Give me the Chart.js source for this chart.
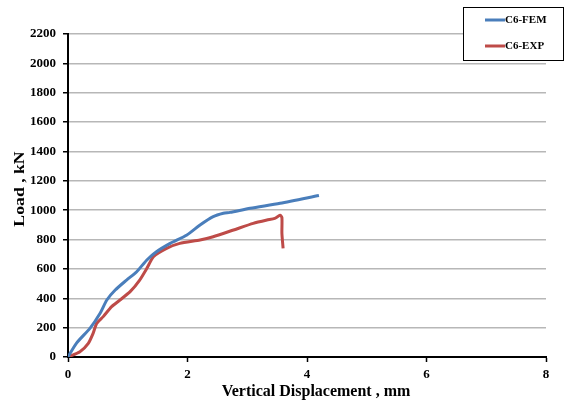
<!DOCTYPE html>
<html>
<head>
<meta charset="utf-8">
<script src="https://cdn.jsdelivr.net/npm/chart.js@4"></script>
<style>
  html, body { margin: 0; padding: 0; background: #fff; }
  #wrap { width: 565px; height: 406px; }
</style>
</head>
<body>
<div id="wrap"><canvas id="c" width="565" height="406"></canvas></div>
<script>
// ---- data ----
const xTicks = [0, 2, 4, 6, 8];
const yTicks = [0, 200, 400, 600, 800, 1000, 1200, 1400, 1600, 1800, 2000, 2200];

const femLabel = 'C6-FEM';
const femX = [0, 0.14, 0.37, 0.54, 0.65, 0.79, 0.98, 1.15, 1.32, 1.48, 1.71, 1.99, 2.21, 2.43, 2.60, 2.71, 3.05, 3.55, 4.20];
const femY = [0, 93, 197, 300, 388, 456, 524, 581, 661, 717, 774, 831, 899, 956, 979, 985, 1013, 1047, 1100];

const expLabel = 'C6-EXP';
const expX = [0, 0.20, 0.34, 0.42, 0.48, 0.59, 0.73, 0.87, 1.04, 1.20, 1.32, 1.43, 1.65, 1.87, 2.21, 2.43, 2.77, 3.10, 3.33, 3.46, 3.55, 3.58, 3.58, 3.60];
const expY = [0, 36, 93, 161, 229, 275, 343, 388, 445, 524, 604, 683, 740, 774, 797, 819, 865, 910, 933, 944, 965, 950, 843, 740];

const xTitle = 'Vertical Displacement , mm';
const yTitle = 'Load , kN';

function pts(xs, ys) { return xs.map((x, i) => ({ x: x, y: ys[i] })); }

const FONT = '"Liberation Serif", "Times New Roman", serif';

const bgPlugin = {
  id: 'bg',
  beforeDraw(chart) {
    const ctx = chart.ctx;
    ctx.save();
    ctx.fillStyle = '#ffffff';
    ctx.fillRect(0, 0, chart.width, chart.height);
    ctx.restore();
  }
};

const extrasPlugin = {
  id: 'extras',
  afterDraw(chart) {
    const ctx = chart.ctx;
    ctx.save();
    // y axis title (slightly stretched along its length, as in the reference)
    ctx.translate(20, 189);
    ctx.rotate(-Math.PI / 2);
    ctx.scale(1.18, 1);
    ctx.font = 'bold 15px ' + FONT;
    ctx.fillStyle = '#000';
    ctx.textAlign = 'center';
    ctx.textBaseline = 'middle';
    ctx.fillText(yTitle, 0, 0);
    ctx.restore();

    // x axis title
    ctx.save();
    ctx.font = 'bold 16px ' + FONT;
    ctx.fillStyle = '#000';
    ctx.textAlign = 'center';
    ctx.textBaseline = 'middle';
    ctx.fillText(xTitle, 316, 392);
    ctx.restore();

    // legend box
    ctx.save();
    const bx = 463.5, by = 7.5, bw = 100, bh = 53;
    ctx.fillStyle = '#fff';
    ctx.fillRect(bx, by, bw, bh);
    ctx.strokeStyle = '#000';
    ctx.lineWidth = 1;
    ctx.strokeRect(bx, by, bw, bh);
    const ds = chart.data.datasets;
    const rows = [20, 46];
    ds.forEach((d, i) => {
      ctx.strokeStyle = d.borderColor;
      ctx.lineWidth = 3;
      ctx.beginPath();
      ctx.moveTo(485, rows[i]);
      ctx.lineTo(505, rows[i]);
      ctx.stroke();
      ctx.fillStyle = '#000';
      ctx.font = 'bold 11px ' + FONT;
      ctx.textAlign = 'left';
      ctx.textBaseline = 'middle';
      ctx.fillText(d.label, 505, rows[i]);
    });
    ctx.restore();
  }
};

new Chart(document.getElementById('c'), {
  type: 'scatter',
  data: {
    datasets: [
      { label: femLabel, data: pts(femX, femY), showLine: true, borderColor: '#4A7EBB', borderWidth: 3, pointRadius: 0, tension: 0.25, fill: false },
      { label: expLabel, data: pts(expX, expY), showLine: true, borderColor: '#BE4B48', borderWidth: 3, pointRadius: 0, tension: 0.2, fill: false }
    ]
  },
  options: {
    responsive: false,
    animation: false,
    devicePixelRatio: 1,
    layout: { padding: { left: 0, top: 34, right: 19, bottom: 0 } },
    plugins: { legend: { display: false }, tooltip: { enabled: false } },
    scales: {
      x: {
        type: 'linear',
        min: 0, max: 8,
        afterBuildTicks(scale) { scale.ticks = xTicks.map(v => ({ value: v })); },
        afterFit(scale) { scale.height = 49; },
        border: { display: true, color: '#000', width: 2 },
        grid: { drawOnChartArea: false, drawTicks: true, tickLength: 5, tickColor: '#000', tickWidth: 1.5 },
        ticks: { color: '#000', font: { family: FONT, size: 13, weight: 'bold' }, padding: 5, maxRotation: 0, callback: v => String(v) },
        title: { display: false }
      },
      y: {
        type: 'linear',
        min: 0, max: 2200,
        afterBuildTicks(scale) { scale.ticks = yTicks.map(v => ({ value: v })); },
        afterFit(scale) { scale.width = 68; },
        border: { display: true, color: '#000', width: 2 },
        grid: { color: '#B7B7B7', lineWidth: 1.5, drawTicks: true, tickLength: 5, tickColor: '#000', tickWidth: 1.5 },
        ticks: { color: '#000', font: { family: FONT, size: 13, weight: 'bold' }, padding: 7, callback: v => String(v) },
        title: { display: false }
      }
    }
  },
  plugins: [bgPlugin, extrasPlugin]
});
</script>
</body>
</html>
